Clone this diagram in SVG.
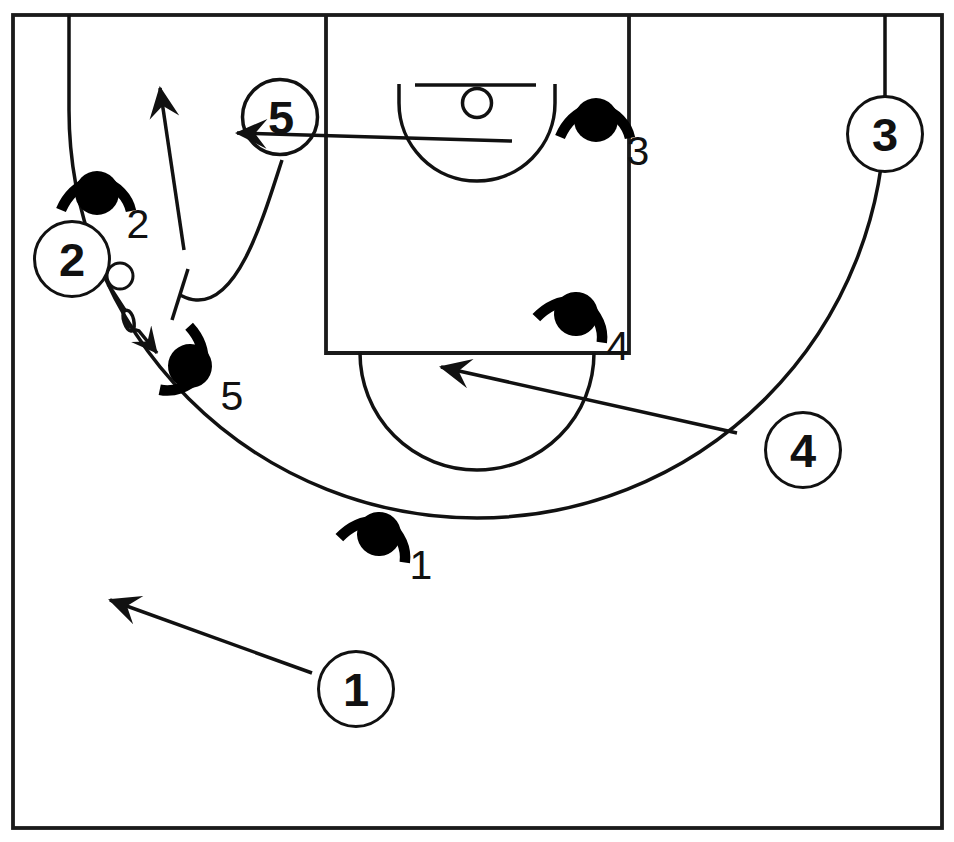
<svg xmlns="http://www.w3.org/2000/svg" width="954" height="842" viewBox="0 0 954 842">
<style>
.l{fill:none;stroke:#1a1a1a;stroke-width:3.8}
.c{fill:none;stroke:#111;stroke-width:3.5}
.o{fill:#fff;stroke:#111;stroke-width:3}
.n{font-family:"Liberation Sans",Arial,sans-serif;font-weight:700;font-size:47px;fill:#111;text-anchor:middle}
.d{font-family:"Liberation Sans",Arial,sans-serif;font-size:41px;fill:#111;text-anchor:middle}
.a{fill:none;stroke:#000;stroke-width:10.5}
</style>
<defs>
<marker id="h" markerUnits="userSpaceOnUse" markerWidth="36" markerHeight="36" refX="31" refY="16" orient="auto"><path d="M33,16 L1,1 L13,16 L1,31 Z" fill="#111"/></marker>
<marker id="s" markerUnits="userSpaceOnUse" markerWidth="30" markerHeight="30" refX="25" refY="13" orient="auto"><path d="M26,13 L0,0 L10,13 L0,26 Z" fill="#111"/></marker>
<g id="def"><path class="a" d="M-36,17 C-30,3 -20,-7 -6,-12 M6,-12 C20,-7 31,4 34,18"/><circle r="22" fill="#000"/></g>
</defs>
<g id="court">
<rect class="l" x="13" y="15" width="929" height="813"/>
<path class="l" d="M326,15V353H629V15"/>
<path class="c" d="M360,353A117,117 0 0 0 594,353"/>
<path class="c" d="M69,15V110A408,408 0 0 0 885,110V15"/>
<path class="c" d="M399,84V103A78,78 0 0 0 555,103V84"/>
<path class="c" d="M415,85H536"/>
<circle class="c" cx="477" cy="103" r="14.5"/>
</g>
<g id="connectors">
<path class="c" marker-end="url(#h)" d="M512,141L237,133"/>
<path class="c" marker-end="url(#h)" d="M737,433L441,367"/>
<path class="c" marker-end="url(#h)" d="M312,673L110,600"/>
<path class="c" marker-end="url(#h)" d="M184,250L160,88"/>
<path class="c" d="M188,269L172,320"/>
<path class="c" d="M282,160C262,222 238,303 196,300C190,300 186,298 180,295"/>
<path class="c" marker-end="url(#s)" d="M108,284L125,310C120,316 126,330 131,331C136,332 135,316 129,311C124,309 122,312 124,318C127,326 132,329 139,331L157,353"/>
</g>
<g id="ball"><circle class="o" cx="120" cy="276" r="13"/></g>
<g id="o5"><circle class="c" cx="280" cy="117" r="37.5"/><text class="n" x="281" y="134">5</text></g>
<g id="o2"><circle class="o" cx="72" cy="259" r="37.5"/><text class="n" x="72" y="276">2</text></g>
<g id="o3"><circle class="o" cx="885" cy="134" r="37.5"/><text class="n" x="885" y="151">3</text></g>
<g id="o4"><circle class="o" cx="803" cy="450" r="37.5"/><text class="n" x="803" y="467">4</text></g>
<g id="o1"><circle class="o" cx="356" cy="689" r="37.5"/><text class="n" x="356" y="706">1</text></g>
<g id="x1"><use href="#def" transform="translate(379,534) rotate(20)"/><text class="d" x="421" y="579">1</text></g>
<g id="x2"><use href="#def" transform="translate(97,193)"/><text class="d" x="138" y="238">2</text></g>
<g id="x3"><use href="#def" transform="translate(596,120)"/><text class="d" x="638" y="165">3</text></g>
<g id="x4"><use href="#def" transform="translate(576,314) rotate(20)"/><text class="d" x="618" y="360">4</text></g>
<g id="x5"><use href="#def" transform="translate(190,366) rotate(114)"/><text class="d" x="232" y="410">5</text></g>
</svg>
